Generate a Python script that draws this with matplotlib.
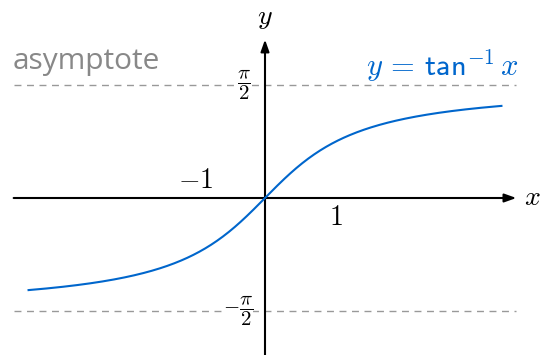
import numpy as np
import matplotlib.pyplot as plt

plt.rcParams['mathtext.fontset'] = 'cm'

# curve: y = arctan(x), drawn over the range shown in the picture
x_start, x_end = -3.33, 3.33
asymptotes = [np.pi / 2, -np.pi / 2]
asym_ticks = [r'$\dfrac{\pi}{2}$', r'$-\dfrac{\pi}{2}$']
x_ticks = [-1, 1]
x_tick_labels = [r'$-1$', r'$1$']

blue = '#0066cc'
gray = '#999999'

fig = plt.figure(figsize=(5.42, 3.55), dpi=100)
ax = fig.add_axes([0, 0, 1, 1])
sx, sy = 71.0, 72.0
ox, oy = 265.0, 198.0
ax.set_xlim(-ox / sx, (542 - ox) / sx)
ax.set_ylim(-(355 - oy) / sy, oy / sy)
ax.axis('off')

xs = np.linspace(x_start, x_end, 400)
ax.plot(xs, np.arctan(xs), color=blue, lw=1.5, zorder=3)

for a in asymptotes:
    ax.plot([-3.54, 3.54], [a, a], color=gray, lw=1, dashes=(5, 4), zorder=1)

# axes with arrows
arrow = dict(arrowstyle='-|>,head_length=0.7,head_width=0.25', color='black',
             lw=1.5, shrinkA=0, shrinkB=0)
ax.annotate('', xy=(3.54, 0), xytext=(-3.54, 0), arrowprops=arrow, zorder=2)
ax.annotate('', xy=(0, 2.20), xytext=(0, -2.2), arrowprops=arrow, zorder=2)

ax.text(3.77, 0.01, r'$x$', fontsize=20, ha='center', va='center')
ax.text(0, 2.52, r'$y$', fontsize=20, ha='center', va='center')

ax.text(-0.30, asymptotes[0], asym_ticks[0], fontsize=15, ha='center', va='center',
        bbox=dict(fc='white', ec='none', pad=0.3))
ax.text(-0.38, asymptotes[1], asym_ticks[1], fontsize=15, ha='center', va='center',
        bbox=dict(fc='white', ec='none', pad=0.3))

ax.text(x_ticks[0] + 0.02, 0.25, x_tick_labels[0], fontsize=20, ha='center', va='center')
ax.text(x_ticks[1], -0.27, x_tick_labels[1], fontsize=20, ha='center', va='center')

ax.text(-3.56, 1.89, 'asymptote', fontsize=21.5, color='#888888', family='Open Sans',
        ha='left', va='center')
ax.text(3.58, 1.84, r'$y \,=\, \mathsf{tan}^{-1}\,x$', fontsize=22, color=blue,
        ha='right', va='center')

fig.savefig('out.png', dpi=100)
